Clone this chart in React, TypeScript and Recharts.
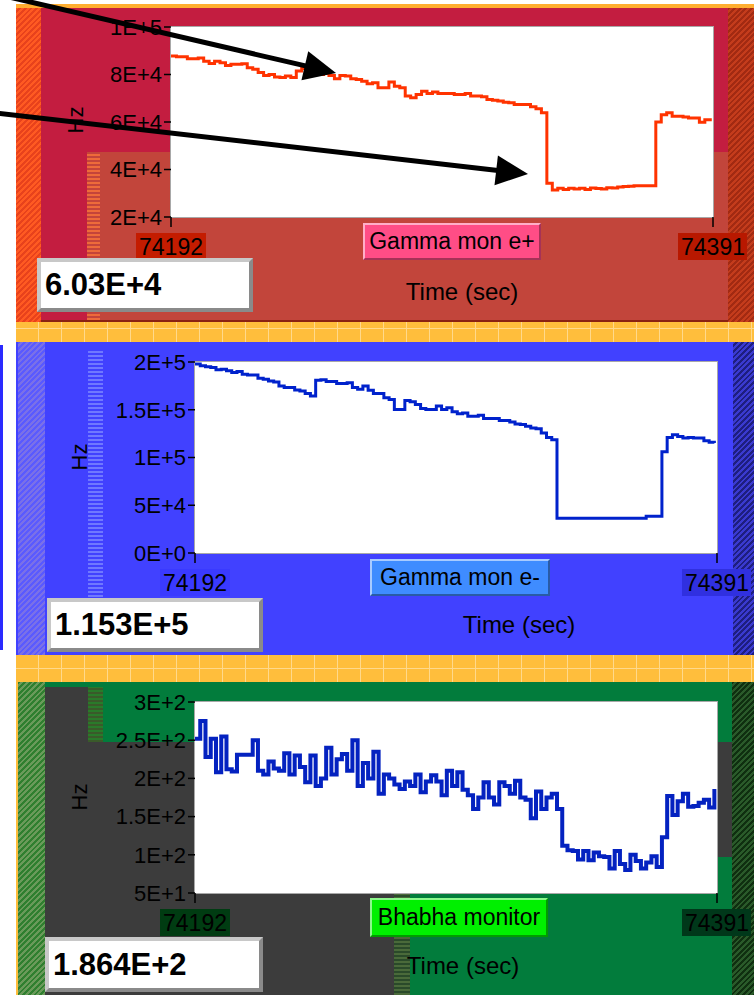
import React from 'react';
import { LineChart, Line, XAxis, YAxis } from 'recharts';

// time axis: one sample every 2 s from 74192
const T0 = 74192;
const T_END = 74391;
const STEP = 2;
const xTicks = [74192, 74391];

const gammaEPlus = [
  87800, 87500, 87500, 86600, 86600, 87000, 85600, 84600, 85600, 84900,
  83800, 84300, 84300, 84500, 82800, 82200, 80800, 79600, 80000, 79000,
  78700, 79400, 78700, 81500, 82500, 81500, 80800, 80000, 80500, 79600,
  78200, 79600, 79400, 78200, 77900, 77200, 76100, 76500, 74400, 74400,
  76800, 75100, 74400, 70900, 70200, 71600, 73000, 72000, 72600, 72000,
  72000, 72000, 71600, 71600, 72000, 70900, 70900, 70600, 69500, 69200,
  68800, 68300, 68100, 67400, 67400, 67400, 66400, 65600, 63900, 34200,
  31400, 32100, 31600, 32100, 31800, 32100, 31600, 32200, 32000, 31800,
  32300, 32200, 32600, 32800, 33000, 33200, 33200, 33200, 33200, 60000,
  63100, 63900, 62400, 62400, 62100, 61700, 61700, 59900, 61000, 60300,
];

const gammaEMinus = [
  197800, 196000, 195000, 194300, 192000, 192500, 190800, 189000, 190000, 187300,
  186500, 186500, 183000, 182000, 180200, 179000, 175000, 173200, 173200, 170700,
  169700, 167000, 164400, 181000, 181500, 179500, 179500, 177400, 177400, 178400,
  173200, 171500, 175000, 170400, 167000, 167000, 162600, 160800, 150300, 150300,
  159800, 158400, 155600, 151400, 150300, 150300, 153800, 150300, 152100, 147800,
  145700, 146700, 143200, 143200, 144300, 140800, 140800, 140800, 138700, 138700,
  137300, 135200, 134500, 132700, 130900, 130200, 125600, 121000, 118600, 36300,
  36300, 36300, 36300, 36300, 36300, 36300, 36300, 36300, 36300, 36300,
  36300, 36300, 36300, 36300, 36300, 36300, 38400, 38400, 38400, 106000,
  121000, 123900, 122000, 120400, 121000, 120400, 120400, 117500, 116100, 115300,
];

const bhabha = [
  252, 275, 228, 252, 208, 255, 212, 209, 231, 231,
  231, 250, 210, 205, 222, 213, 210, 233, 205, 230,
  215, 195, 230, 190, 200, 240, 205, 225, 232, 210,
  250, 190, 220, 200, 235, 180, 205, 200, 192, 186,
  196, 190, 205, 182, 196, 204, 196, 178, 210, 190,
  208, 185, 178, 160, 175, 195, 175, 166, 195, 190,
  180, 197, 175, 172, 148, 183, 160, 175, 180, 160,
  112, 106, 105, 94, 105, 93, 103, 98, 97, 82,
  105, 88, 80, 100, 92, 82, 90, 98, 84, 123,
  177, 152, 170, 180, 163, 164, 168, 172, 162, 186,
];

const yTicksEPlus = [20000, 40000, 60000, 80000, 100000];
const yTicksEMinus = [0, 50000, 100000, 150000, 200000];
const yTicksBhabha = [50, 100, 150, 200, 250, 300];

const titles = ['Gamma mon e+', 'Gamma mon e-', 'Bhabha monitor'];
const readouts = ['6.03E+4', '1.153E+5', '1.864E+2'];

const FONT = '"Liberation Sans", Arial, sans-serif';
const YW = 100;
const MT = 14;
const MR = 34;
const XH = 50;

const toRows = (vals: number[]) => vals.map((v, i) => ({ t: T0 + i * STEP, v }));

// LabVIEW style labels: 1.5E+5, 0E+0
const sci = (v: number) => {
  if (v === 0) return '0E+0';
  const e = Math.floor(Math.log10(v) + 1e-9);
  const m = +(v / Math.pow(10, e)).toFixed(2);
  return `${m}E+${e}`;
};

type Plot = { l: number; t: number; r: number; b: number };

const Rect = ({ x, y, w, h, bg }: { x: number; y: number; w: number; h: number; bg: string }) => (
  <div style={{ position: 'absolute', left: x, top: y, width: w, height: h, background: bg }} />
);

const hatch = (a: string, b: string, deg = 135) =>
  `repeating-linear-gradient(${deg}deg, ${a} 0 2px, ${b} 2px 4px)`;

const orangeBand =
  'repeating-linear-gradient(90deg, transparent 0 22px, #ffd98c 22px 23px), repeating-linear-gradient(0deg, transparent 0 13px, #ffd98c 13px 14px), #ffbe3c';

interface ChartProps {
  rows: { t: number; v: number }[];
  domain: [number, number];
  ticks: number[];
  color: string;
  width?: number;
  plot: Plot;
  boxColors: string[];
}

const MonitorChart: React.FC<ChartProps> = ({ rows, domain, ticks, color, width = 3, plot, boxColors }) => {
  const w = YW + plot.r - plot.l + MR;
  const h = MT + plot.b - plot.t + XH;
  return (
    <>
      <div
        style={{
          position: 'absolute',
          left: plot.l - 1,
          top: plot.t - 1,
          width: plot.r - plot.l + 2,
          height: plot.b - plot.t + 2,
          background: '#fff',
          border: '1px solid #a8a8a8',
          boxSizing: 'border-box',
        }}
      />
      <div style={{ position: 'absolute', left: plot.l - YW, top: plot.t - MT }}>
        <LineChart width={w} height={h} data={rows} margin={{ top: MT, right: MR, bottom: 0, left: 0 }}>
          <XAxis
            dataKey="t"
            type="number"
            domain={[T0, T_END]}
            ticks={xTicks}
            interval={0}
            height={XH}
            axisLine={false}
            tickLine={{ stroke: '#000', strokeWidth: 1.5 }}
            tickSize={10}
            tickMargin={4}
            tick={(p: any) => (
              <g>
                <rect x={p.x - 35} y={p.y + 2} width={70} height={27} fill={boxColors[p.index] || boxColors[0]} />
                <text x={p.x} y={p.y + 24} textAnchor="middle" fontSize={23} fontFamily={FONT} fill="#000">
                  {p.payload.value}
                </text>
              </g>
            )}
          />
          <YAxis
            width={YW}
            type="number"
            domain={domain}
            ticks={ticks}
            interval={0}
            axisLine={false}
            tickLine={{ stroke: '#000', strokeWidth: 1.5 }}
            tickSize={7}
            tickMargin={2}
            tickFormatter={sci}
            tick={{ fill: '#000', fontSize: 22, fontFamily: FONT }}
          />
          <Line
            type="stepAfter"
            dataKey="v"
            stroke={color}
            strokeWidth={width}
            dot={false}
            isAnimationActive={false}
          />
        </LineChart>
      </div>
    </>
  );
};

const Button = ({ x, y, w, h, bg, label }: { x: number; y: number; w: number; h: number; bg: string; label: string }) => (
  <div
    style={{
      position: 'absolute',
      left: x,
      top: y,
      width: w,
      height: h,
      background: bg,
      boxSizing: 'border-box',
      borderStyle: 'solid',
      borderWidth: 2,
      borderColor: 'rgba(255,255,255,0.55) rgba(0,0,0,0.35) rgba(0,0,0,0.35) rgba(255,255,255,0.55)',
      fontSize: 23,
      lineHeight: `${h - 4}px`,
      textAlign: 'center',
      color: '#000',
      whiteSpace: 'nowrap',
    }}
  >
    {label}
  </div>
);

const Readout = ({ x, y, w, h, text }: { x: number; y: number; w: number; h: number; text: string }) => (
  <div
    style={{
      position: 'absolute',
      left: x,
      top: y,
      width: w,
      height: h,
      background: '#fff',
      boxSizing: 'border-box',
      borderStyle: 'solid',
      borderWidth: 4,
      borderColor: '#c8c8c8 #8a8a8a #8a8a8a #c8c8c8',
      fontSize: 31,
      fontWeight: 'bold',
      lineHeight: `${h - 8}px`,
      paddingLeft: 4,
      color: '#000',
    }}
  >
    {text}
  </div>
);

const Caption = ({ x, y, text, size = 24, rotate = 0 }: { x: number; y: number; text: string; size?: number; rotate?: number }) => (
  <div
    style={{
      position: 'absolute',
      left: x,
      top: y,
      fontSize: size,
      color: '#000',
      whiteSpace: 'nowrap',
      transform: `translate(-50%, -50%) rotate(${rotate}deg)`,
    }}
  >
    {text}
  </div>
);

const arrowHead = (sx: number, sy: number, tx: number, ty: number, len = 32, half = 15) => {
  const d = Math.hypot(tx - sx, ty - sy);
  const ux = (tx - sx) / d;
  const uy = (ty - sy) / d;
  const bx = tx - len * ux;
  const by = ty - len * uy;
  return {
    line: [sx, sy, bx + 4 * ux, by + 4 * uy],
    pts: `${tx},${ty} ${bx - half * uy},${by + half * ux} ${bx + half * uy},${by - half * ux}`,
  };
};

const App: React.FC = () => {
  const a1 = arrowHead(-4, -6, 336, 73);
  const a2 = arrowHead(-4, 113, 528, 174);

  return (
    <div style={{ position: 'relative', width: 754, height: 995, overflow: 'hidden', background: '#fff', fontFamily: FONT }}>
      <style>{'body{margin:0}'}</style>

      {/* top strip */}
      <Rect x={16} y={4} w={738} h={4} bg="#ffae30" />

      {/* panel 1: Gamma mon e+ */}
      <Rect x={16} y={8} w={738} h={314} bg="#c31d40" />
      <Rect x={16} y={8} w={25} h={314} bg={hatch('#ff5a22', '#e8421c')} />
      <Rect x={100} y={152} w={628} h={168} bg="#c2453b" />
      <Rect x={87} y={152} w={13} h={168} bg={hatch('#ee6a3a', '#c4443a', 0)} />
      <Rect x={728} y={8} w={26} h={314} bg={hatch('#a22a12', '#c43c1c')} />
      <Rect x={41} y={320} w={687} h={2} bg="#8a2212" />
      <Rect x={16} y={322} w={738} h={20} bg={orangeBand} />

      <MonitorChart
        rows={toRows(gammaEPlus)}
        domain={[20000, 100000]}
        ticks={yTicksEPlus}
        color="#ff3300"
        plot={{ l: 171, t: 27, r: 713, b: 217 }}
        boxColors={['#c41c00', '#b81800']}
      />
      <Button x={363} y={223} w={178} h={37} bg="#ff4d86" label={titles[0]} />
      <Readout x={37} y={258} w={216} h={54} text={readouts[0]} />
      <Caption x={462} y={292} text="Time (sec)" />
      <Caption x={76} y={120} text="Hz" size={22} rotate={-90} />

      {/* panel 2: Gamma mon e- */}
      <Rect x={0} y={345} w={3} h={305} bg="#2a2aff" />
      <Rect x={16} y={342} w={738} h={313} bg="#4141ff" />
      <Rect x={18} y={342} w={27} h={313} bg={hatch('#5a5aff', '#7a70e8')} />
      <Rect x={88} y={350} w={15} h={247} bg={hatch('#7078ff', '#4141ff', 0)} />
      <Rect x={733} y={342} w={21} h={313} bg={hatch('#3a3ad0', '#1e1e80')} />
      <Rect x={16} y={655} w={738} h={27} bg={orangeBand} />

      <MonitorChart
        rows={toRows(gammaEMinus)}
        domain={[0, 200000]}
        ticks={yTicksEMinus}
        color="#0022cc"
        plot={{ l: 195, t: 362, r: 717, b: 553 }}
        boxColors={['#3a3aff', '#3030e0']}
      />
      <Button x={370} y={559} w={180} h={37} bg="#3f8cff" label={titles[1]} />
      <Readout x={47} y={598} w={216} h={54} text={readouts[1]} />
      <Caption x={519} y={625} text="Time (sec)" />
      <Caption x={80} y={457} text="Hz" size={22} rotate={-90} />

      {/* panel 3: Bhabha monitor */}
      <Rect x={16} y={682} w={738} h={313} bg="#027c3c" />
      <Rect x={16} y={682} w={2} h={313} bg="#ffbe3c" />
      <Rect x={18} y={682} w={27} h={313} bg={hatch('#2f7f2f', '#6a9a5a')} />
      <Rect x={45} y={687} w={43} h={308} bg="#3c3c3c" />
      <Rect x={88} y={687} w={15} h={55} bg={hatch('#3a5a2a', '#2a7a2a', 0)} />
      <Rect x={88} y={742} w={645} h={115} bg="#3c3c3c" />
      <Rect x={88} y={857} w={312} h={138} bg="#3c3c3c" />
      <Rect x={394} y={893} w={16} h={102} bg={hatch('#4a6a3a', '#2a4a2a', 0)} />
      <Rect x={732} y={682} w={22} h={313} bg={hatch('#0f2f10', '#2a5a2a')} />

      <MonitorChart
        rows={toRows(bhabha)}
        domain={[50, 300]}
        ticks={yTicksBhabha}
        color="#0422c0"
        width={4}
        plot={{ l: 195, t: 702, r: 717, b: 893 }}
        boxColors={['#003c12', '#00381a']}
      />
      <Button x={370} y={898} w={178} h={39} bg="#00f000" label={titles[2]} />
      <Readout x={45} y={937} w={218} h={55} text={readouts[2]} />
      <Caption x={463} y={966} text="Time (sec)" />
      <Caption x={80} y={797} text="Hz" size={22} rotate={-90} />

      {/* annotation arrows */}
      <svg width={754} height={995} style={{ position: 'absolute', left: 0, top: 0, pointerEvents: 'none' }}>
        {[a1, a2].map((a, i) => (
          <g key={i}>
            <line x1={a.line[0]} y1={a.line[1]} x2={a.line[2]} y2={a.line[3]} stroke="#000" strokeWidth={5} />
            <polygon points={a.pts} fill="#000" />
          </g>
        ))}
      </svg>
    </div>
  );
};

export default App;
